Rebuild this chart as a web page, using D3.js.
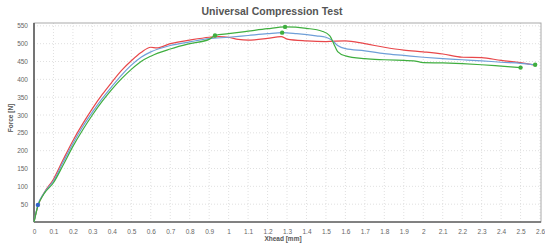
<!DOCTYPE html>
<html><head><meta charset="utf-8">
<script src="https://cdn.jsdelivr.net/npm/d3@7"></script>
<style>body{margin:0;background:#fff}svg{display:block}</style>
</head><body>
<svg id="c" width="545" height="246"></svg>
<script>
const title = "Universal Compression Test";
const xLabel = "Xhead [mm]";
const yLabel = "Force [N]";
const xTicks = [0,0.1,0.2,0.3,0.4,0.5,0.6,0.7,0.8,0.9,1,1.1,1.2,1.3,1.4,1.5,1.6,1.7,1.8,1.9,2,2.1,2.2,2.3,2.4,2.5,2.6];
const yTicks = [50,100,150,200,250,300,350,400,450,500,550];

const redX = [0,0.02,0.05,0.1,0.15,0.2,0.25,0.3,0.35,0.4,0.45,0.5,0.55,0.6,0.63,0.7,0.8,0.9,0.95,1.0,1.05,1.1,1.2,1.27,1.3,1.4,1.5,1.6,1.7,1.8,1.9,2.0,2.1,2.2,2.3,2.4,2.5,2.575];
const redY = [0,45,80,120,175,228,275,318,357,392,425,452,475,490,488,500,510,518,520,518,512,510,515,520,513,508,506,508,500,490,482,477,471,462,461,453,447,440];

const blueX = [0,0.02,0.05,0.1,0.15,0.2,0.25,0.3,0.35,0.4,0.45,0.5,0.55,0.6,0.7,0.8,0.9,1.0,1.1,1.2,1.275,1.35,1.45,1.5,1.53,1.56,1.6,1.7,1.8,1.9,2.0,2.1,2.2,2.3,2.4,2.5,2.575];
const blueY = [0,48,80,115,168,220,267,308,346,380,412,440,462,477,495,505,514,518,523,528,531,528,522,518,510,495,486,480,472,467,462,458,455,452,448,445,441];

const greenX = [0,0.02,0.05,0.1,0.15,0.2,0.25,0.3,0.35,0.4,0.45,0.5,0.55,0.6,0.7,0.8,0.9,0.93,1.0,1.1,1.2,1.29,1.4,1.48,1.52,1.54,1.56,1.6,1.7,1.8,1.9,1.95,2.0,2.1,2.2,2.3,2.4,2.5];
const greenY = [0,45,78,110,160,212,258,300,338,372,402,428,450,465,485,500,512,523,528,535,542,547,543,535,522,500,478,466,458,455,453,452,447,446,444,441,437,433];

const markX = [0.93,1.29,1.275,2.5,2.575];
const markY = [523,547,531,433,441];
const startX = [0.02];
const startY = [48];

const W=545,H=246;
const m={l:34,r:4,t:23,b:24};
const svg=d3.select("#c");
const x=d3.scaleLinear().domain([0,2.605]).range([m.l,W-m.r]);
const y=d3.scaleLinear().domain([0,558]).range([H-m.b,m.t]);

svg.append("text").attr("x",272).attr("y",15).attr("text-anchor","middle")
  .attr("font-family","Liberation Sans, Arial, sans-serif").attr("font-weight","bold")
  .attr("font-size",10.5).attr("fill","#555").text(title);

// grid
const g=svg.append("g");
g.selectAll("line.vx").data(xTicks.slice(1)).join("line")
  .attr("x1",d=>x(d)).attr("x2",d=>x(d)).attr("y1",m.t).attr("y2",H-m.b)
  .attr("stroke","#d8d8d8").attr("stroke-dasharray","1,2").attr("stroke-width",0.8);
g.selectAll("line.hy").data(yTicks).join("line")
  .attr("x1",m.l).attr("x2",W-m.r).attr("y1",d=>y(d)).attr("y2",d=>y(d))
  .attr("stroke","#d8d8d8").attr("stroke-dasharray","1,2").attr("stroke-width",0.8);

// frame
svg.append("rect").attr("x",m.l).attr("y",m.t).attr("width",W-m.r-m.l).attr("height",H-m.b-m.t)
  .attr("fill","none").attr("stroke","#aaa").attr("stroke-width",1);
svg.append("line").attr("x1",m.l).attr("x2",m.l).attr("y1",m.t).attr("y2",H-m.b).attr("stroke","#555").attr("stroke-width",1.5);
svg.append("line").attr("x1",m.l).attr("x2",W-m.r).attr("y1",H-m.b).attr("y2",H-m.b).attr("stroke","#666").attr("stroke-width",1.5);

// axes
const xa=svg.append("g").attr("transform",`translate(0,${H-m.b})`)
  .call(d3.axisBottom(x).tickValues(xTicks).tickSize(0).tickPadding(7).tickFormat(d=>d3.format("~g")(d)));
const ya=svg.append("g").attr("transform",`translate(${m.l},0)`)
  .call(d3.axisLeft(y).tickValues(yTicks).tickSize(0).tickPadding(6));
[xa,ya].forEach(a=>{a.select(".domain").remove();
  a.selectAll("text").attr("font-family","Liberation Sans, Arial, sans-serif").attr("font-size",6.5).attr("fill","#666");});

svg.append("text").attr("x",283).attr("y",241).attr("text-anchor","middle")
  .attr("font-family","Liberation Sans, Arial, sans-serif").attr("font-weight","bold")
  .attr("font-size",6.5).attr("fill","#555").text(xLabel);
svg.append("text").attr("transform","translate(13,118) rotate(-90)").attr("text-anchor","middle")
  .attr("font-family","Liberation Sans, Arial, sans-serif").attr("font-weight","bold")
  .attr("font-size",6.5).attr("fill","#555").text(yLabel);

const line=d3.line().x(d=>x(d[0])).y(d=>y(d[1])).curve(d3.curveMonotoneX);
const series=[[redX,redY,"#e8474a"],[blueX,blueY,"#6f9fd8"],[greenX,greenY,"#3fae3f"]];
series.forEach(([xs,ys,c])=>{
  svg.append("path").datum(xs.map((v,i)=>[v,ys[i]])).attr("d",line)
    .attr("fill","none").attr("stroke",c).attr("stroke-width",1.2);
});

svg.selectAll("circle.mk").data(markX.map((v,i)=>[v,markY[i]])).join("circle")
  .attr("cx",d=>x(d[0])).attr("cy",d=>y(d[1])).attr("r",2.2).attr("fill","#3fae3f");
svg.selectAll("circle.st").data(startX.map((v,i)=>[v,startY[i]])).join("circle")
  .attr("cx",d=>x(d[0])).attr("cy",d=>y(d[1])).attr("r",2.2).attr("fill","#2f63c8");
</script>
</body></html>
